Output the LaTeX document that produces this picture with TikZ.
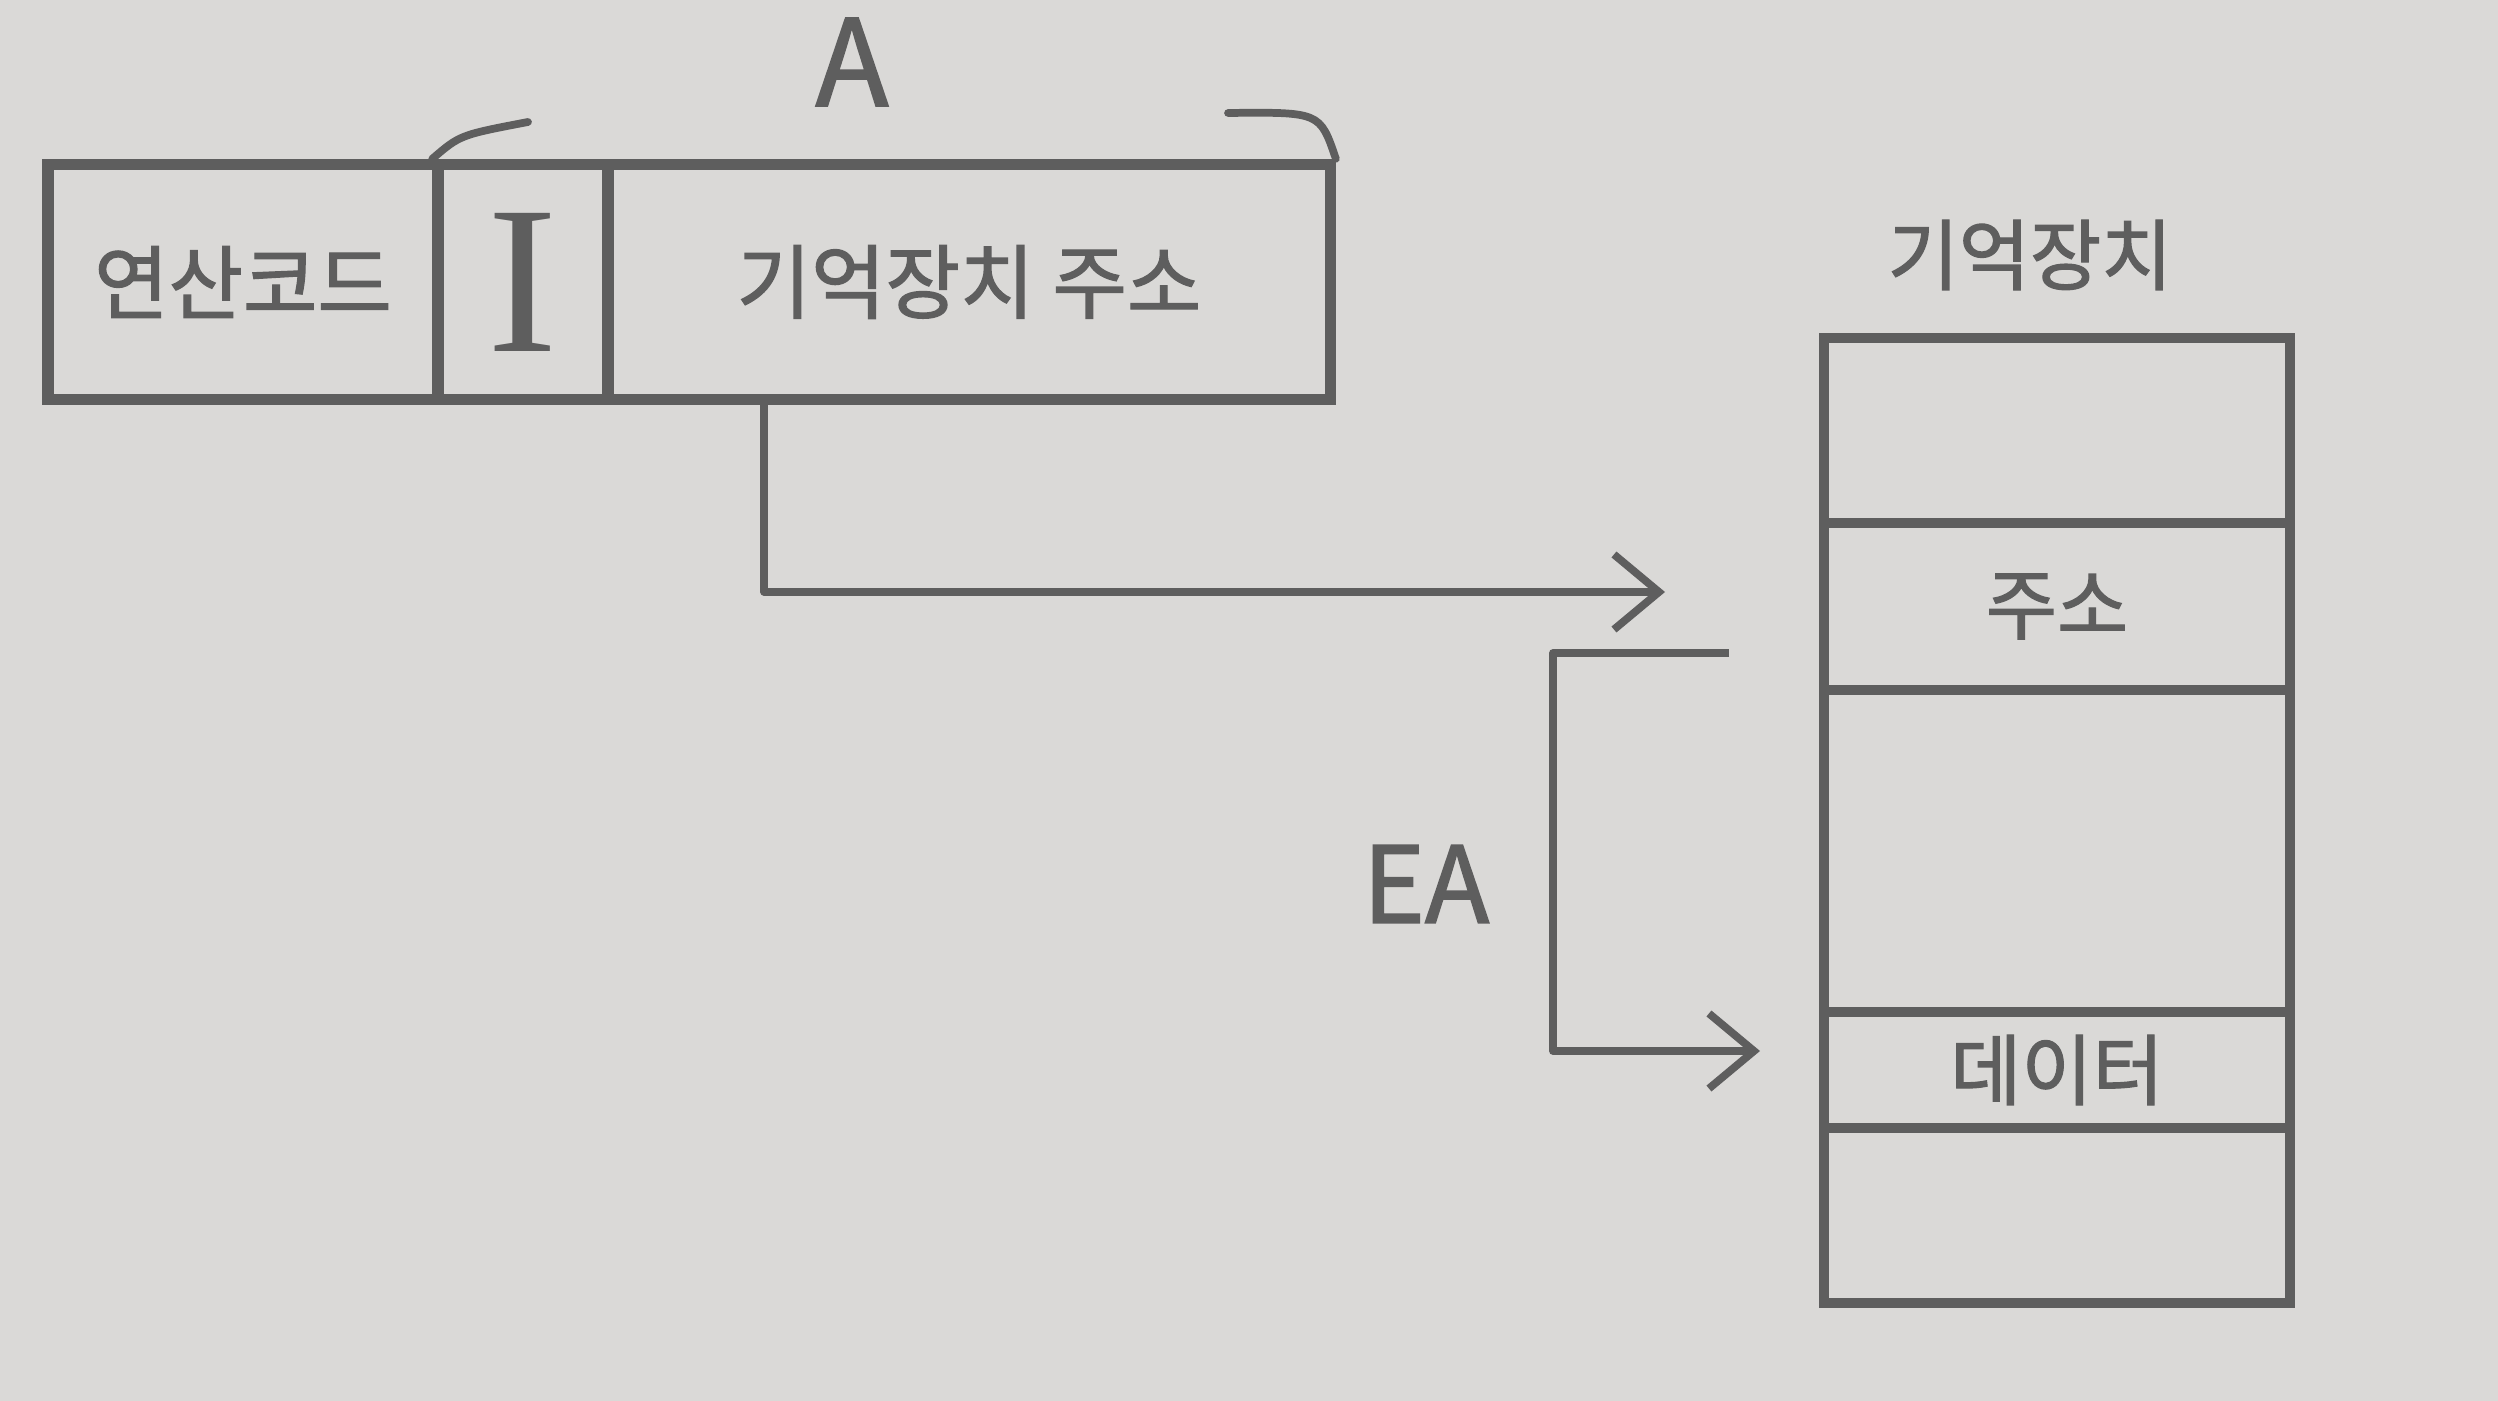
\documentclass[tikz,border=0pt]{standalone}
\usepackage{fontspec}
\newfontfamily\kr[FakeBold=1.6]{Noto Sans CJK KR}
\newfontfamily\serifI{Liberation Serif}
\usetikzlibrary{arrows.meta,calc}
\definecolor{paper}{HTML}{DAD9D7}
\definecolor{ink}{HTML}{5E5E5E}
\tikzset{
 field/.style={draw=ink, line width=3.2pt, minimum height=2.35cm, inner sep=0pt, anchor=center, text=ink, font=\kr\fontsize{23}{27}\selectfont},
 cell/.style={draw=ink, line width=2.8pt, minimum width=4.66cm, inner sep=0pt, text=ink, font=\kr\fontsize{22}{26}\selectfont},
 lbl/.style={text=ink, inner sep=0pt, font=\kr\fontsize{22}{26}\selectfont},
 arr/.style={draw=ink, line width=2.2pt, -{Straight Barb[length=4.5mm,width=7.5mm,line width=2.2pt]}, line join=round},
 brk/.style={draw=ink, line width=2.2pt, line cap=round},
}
\begin{document}
\begin{tikzpicture}[x=0.01cm,y=-0.01cm]
\fill[paper] (0,0) rectangle (2498,1401);
\useasboundingbox (0,0) rectangle (2498,1401);
% instruction
\node[field, minimum width=3.9cm] (op) at (243,282) {연산코드};
\node[field, minimum width=1.7cm, font=\serifI\fontsize{60}{64}\selectfont] (ibit) at (523,282) {\raisebox{-0.5ex}{I}};
\node[field, minimum width=7.22cm] (addr) at (969,282) {기억장치 주소};
% bracket A
\coordinate (bl) at (528,122);
\draw[brk] (ibit.north west) .. controls (460,135) .. (bl);
\coordinate (br) at (1228,113);
\draw[brk] (br) .. controls (1320,112) .. (addr.north east);
\node[lbl, font=\kr\fontsize{34}{40}\selectfont] (lA) at (852,62) {A};
% memory
\node[lbl] (mt) at (2030,255) {기억장치};
\node[cell, minimum height=1.85cm] (m1) at (2057,430.5) {};
\node[cell, minimum height=1.67cm] (m2) at (2057,606.5) {주소};
\node[cell, minimum height=3.22cm] (m3) at (2057,851) {};
\node[cell, minimum height=1.16cm] (m4) at (2057,1070) {데이터};
\node[cell, minimum height=1.75cm] (m5) at (2057,1215.5) {};
% arrow from address field
\coordinate (p1) at (1665,592);
\draw[arr] ([xshift=1.62cm]addr.south west) |- (p1);
% EA arrow
\coordinate (e0) at (1729,653);
\coordinate (e1) at (1553,1051);
\coordinate (e2) at (1760,1051);
\draw[arr] (e0) -| (e1) -- (e2);
\node[lbl, font=\kr\fontsize{30}{36}\selectfont] (lEA) at (1426,884) {EA};
\end{tikzpicture}
\end{document}
